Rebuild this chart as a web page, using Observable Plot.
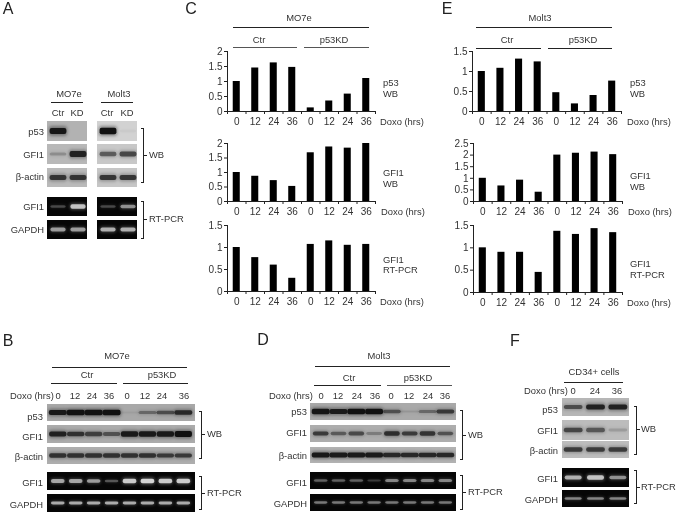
<!DOCTYPE html>
<html>
<head>
<meta charset="utf-8">
<script src="https://cdn.jsdelivr.net/npm/d3@7"></script>
<script src="https://cdn.jsdelivr.net/npm/@observablehq/plot@0.6"></script>
<style>
html,body{margin:0;padding:0;background:#fff}
#page{position:relative;width:678px;height:515px;overflow:hidden;font-family:"Liberation Sans",Arial,sans-serif;color:#333;filter:blur(0.3px)}
#page svg{position:absolute}
.t{position:absolute;white-space:pre;font-size:9.4px;line-height:12px;transform:translateY(-50%)}
.t.r{transform:translate(-100%,-50%)}
.t.c{transform:translate(-50%,-50%)}
.t.big{font-size:16px;line-height:18px;color:#222}
.ln{position:absolute;height:1px;background:#222}
.br{position:absolute;border:1px solid #222;border-left:none;width:2px;box-sizing:content-box}
.tk{position:absolute;height:1px;width:3px;background:#222}
</style>
</head>
<body>
<div id="page"></div>
<script>
// ---------- chart values ----------
const doxoHours = ["0","12","24","36","0","12","24","36"];
const mo7eP53 = [1.0,1.45,1.62,1.47,0.12,0.35,0.58,1.1];
const mo7eGfi1Wb = [1.0,0.87,0.72,0.52,1.68,1.88,1.84,2.0];
const mo7eGfi1Pcr = [1.0,0.77,0.6,0.3,1.07,1.15,1.05,1.07];
const molt3P53 = [1.0,1.08,1.31,1.24,0.47,0.19,0.4,0.76];
const molt3Gfi1Wb = [1.0,0.67,0.92,0.4,2.0,2.08,2.13,2.02];
const molt3Gfi1Pcr = [1.0,0.9,0.9,0.45,1.37,1.3,1.43,1.34];
const ticks2 = [0,0.5,1,1.5,2];
const ticks15 = [0,0.5,1,1.5];
const ticks25 = [0,0.5,1,1.5,2,2.5];

// band strengths (0..1) per lane, read from the blots
const aMo7e = {p53:[0.95,0],gfi:[0.2,0.85],act:[0.72,0.72],pcr:[0.25,0.8],gap:[0.6,0.6]};
const aMolt = {p53:[1,0.03],gfi:[0.5,0.62],act:[0.72,0.72],pcr:[0.25,0.55],gap:[0.7,0.7]};
const bP53 = [0.92,1,1,1,0.05,0.35,0.52,0.78];
const bGfi = [0.85,0.72,0.62,0.5,0.92,0.92,0.92,1];
const bAct = [0.72,0.72,0.72,0.72,0.72,0.72,0.66,0.66];
const bPcr = [0.65,0.65,0.6,0.3,0.85,0.9,0.85,0.85];
const bGap = [0.68,0.68,0.68,0.68,0.68,0.68,0.68,0.68];
const dP53 = [0.95,0.9,1,1,0.5,0.1,0.35,0.65];
const dGfi = [0.65,0.45,0.55,0.25,0.75,0.65,0.7,0.5];
const dAct = [0.92,0.9,0.9,0.9,0.8,0.8,0.8,0.8];
const dPcr = [0.35,0.35,0.35,0.2,0.5,0.5,0.5,0.5];
const dGap = [0.45,0.45,0.45,0.45,0.45,0.45,0.45,0.45];
const fP53 = [0.55,0.85,0.85];
const fGfi = [0.6,0.5,0.15];
const fAct = [0.68,0.68,0.68];
const fPcr = [0.7,0.8,0.55];
const fGap = [0.5,0.5,0.5];

// ---------- helpers ----------
const page = document.getElementById("page");
function add(cls, x, y, text){
  const d = document.createElement("div");
  d.className = cls; d.style.left = x+"px"; d.style.top = y+"px";
  if (text != null) d.textContent = text;
  page.appendChild(d); return d;
}
const left = (s,x,y)=>add("t",x,y,s);
const right = (s,x,y)=>add("t r",x,y,s);
const mid = (s,x,y)=>add("t c",x,y,s);
const big = (s,x,y)=>add("t c big",x,y,s);
const line = (x1,x2,y,col)=>{const d=add("ln",x1,y);d.style.width=(x2-x1)+"px";if(col)d.style.background=col;};
function bracket(s,x,y1,y2,tx,ty){
  const d=add("br",x,y1);d.style.height=(y2-y1)+"px";
  add("tk",x+3,ty);
  left(s,tx,ty);
}
function place(svg,x,y){svg.style.left=x+"px";svg.style.top=y+"px";page.appendChild(svg);}

function barChart(values,yMax,yTicks,axisX,axisTop,axisBottom,axisW){
  const mL=30,mR=6,mT=6,mB=20;
  const rows=values.map((v,i)=>({v,i}));
  const svg=Plot.plot({
    width:axisW+mL+mR,height:axisBottom-axisTop+mT+mB,
    marginLeft:mL,marginRight:mR,marginTop:mT,marginBottom:mB,
    style:{background:"transparent",fontFamily:"'Liberation Sans',Arial,sans-serif",fontSize:"10px",color:"#333"},
    x:{domain:[0,8],axis:null},
    y:{domain:[0,yMax],axis:null},
    marks:[
      Plot.rectY(rows,{x1:d=>d.i+0.31,x2:d=>d.i+0.69,y1:0,y2:"v",fill:"#000"}),
      Plot.ruleX([0],{stroke:"#222"}),
      Plot.ruleY([0],{stroke:"#222"}),
      Plot.axisY({ticks:yTicks,tickFormat:d=>String(d),tickSize:3,tickPadding:2,label:null,stroke:"#222",fill:"#333"}),
      Plot.axisX({ticks:d3.range(9),tickFormat:()=>"",tickSize:3,label:null,stroke:"#222"}),
      Plot.axisX({ticks:d3.range(8).map(i=>i+0.5),tickFormat:d=>doxoHours[Math.floor(d)],tickSize:0,tickPadding:6,label:null,fill:"#333"})
    ]
  });
  place(svg,axisX-mL,axisTop-mT);
}

function blot(values,x,y,w,h,opt){
  const {bg="#b4b4b4",ink="#111",lo=-0.6,hi=null,halo=0.4,scale=1,wide=0.42}=opt||{};
  const rows=values.map((v,i)=>({v,i}));
  const half=d=>(0.11+0.21*d.v)*scale;
  const svg=Plot.plot({
    width:w,height:h,margin:0,
    style:{background:bg},
    x:{domain:[lo,hi==null?values.length-0.4:hi],axis:null},
    y:{domain:[-1,1],axis:null},
    marks:[
      Plot.rect(rows,{x1:d=>d.i-wide-0.04,x2:d=>d.i+wide+0.04,y1:d=>-half(d)*1.6,y2:d=>half(d)*1.6,fill:ink,fillOpacity:d=>d.v*halo,rx:3,imageFilter:"blur(1.4px)"}),
      Plot.rect(rows,{x1:d=>d.i-wide,x2:d=>d.i+wide,y1:d=>-half(d),y2:d=>half(d),fill:ink,fillOpacity:d=>d.v,rx:2,imageFilter:"blur(0.7px)"})
    ]
  });
  place(svg,x,y);
}
const gel={bg:"#060606",ink:"#e4e4e4",scale:0.85,halo:0.35,wide:0.38};

// ---------- panel letters ----------
big("A",8,9);big("C",191,9);big("E",447,9);big("B",8,341);big("D",263,340);big("F",515,341);

// ---------- panel A ----------
mid("MO7e",69,94);line(51,83,102);mid("Molt3",119,94);line(101,133,102);
mid("Ctr",58,113);mid("KD",77,113);mid("Ctr",107,113);mid("KD",127,113);
right("p53",44,132);right("GFI1",44,155);right("β-actin",44,177);right("GFI1",44,207);right("GAPDH",44,230);
const aOpt={lo:-0.55,hi:1.45};
blot(aMo7e.p53,47,121,40,20,{...aOpt,bg:"#b2b2b2"});
blot(aMo7e.gfi,47,144,40,20,{...aOpt,bg:"#b8b8b8"});
blot(aMo7e.act,47,168,40,19,{...aOpt,bg:"#bababa"});
blot(aMo7e.pcr,47,197,40,19,{...aOpt,...gel});
blot(aMo7e.gap,47,220,40,19,{...aOpt,...gel});
blot(aMolt.p53,97,121,40,20,{...aOpt,bg:"#d2d2d2"});
blot(aMolt.gfi,97,144,40,20,{...aOpt,bg:"#c8c8c8"});
blot(aMolt.act,97,168,40,19,{...aOpt,bg:"#c6c6c6"});
blot(aMolt.pcr,97,197,40,19,{...aOpt,...gel});
blot(aMolt.gap,97,220,40,19,{...aOpt,...gel});
bracket("WB",141,128,181,149,155);
bracket("RT-PCR",141,201,237,149,219);

// ---------- panel C ----------
mid("MO7e",299,18);line(233,369,27);
mid("Ctr",259,40);line(233,297,47,"#555");mid("p53KD",334,40);line(304,369,47,"#555");
barChart(mo7eP53,2,ticks2,227,51,111,148);
barChart(mo7eGfi1Wb,2,ticks2,227,143,201,148);
barChart(mo7eGfi1Pcr,1.5,ticks15,227,225,291,148);
left("Doxo (hrs)",380,122);left("Doxo (hrs)",381,212);left("Doxo (hrs)",380,302);
left("p53",383,83);left("WB",383,94);
left("GFI1",383,173);left("WB",383,184);
left("GFI1",383,260);left("RT-PCR",383,270);

// ---------- panel E ----------
mid("Molt3",540,18);line(476,612,27);
mid("Ctr",507,40);line(476,541,48);mid("p53KD",583,40);line(548,612,48);
barChart(molt3P53,1.5,ticks15,472,51,111,149);
barChart(molt3Gfi1Wb,2.5,ticks25,473,143,201,149);
barChart(molt3Gfi1Pcr,1.5,ticks15,473,225,292,149);
left("Doxo (hrs)",627,122);left("Doxo (hrs)",628,212);left("Doxo (hrs)",627,303);
left("p53",630,83);left("WB",630,94);
left("GFI1",630,176);left("WB",630,187);
left("GFI1",630,264);left("RT-PCR",630,275);

// ---------- panel B ----------
mid("MO7e",117,356);line(52,187,367);
mid("Ctr",87,375);line(51,117,383);mid("p53KD",162,375);line(123,188,383);
left("Doxo (hrs)",10,396);
[58,75,92,109,127,145,162,184].forEach((x,i)=>mid(doxoHours[i],x,396));
const bOpt={lo:-0.6,hi:7.65};
blot(bP53,47,404,148,17,{...bOpt,bg:"#a8a8a8",wide:0.5});
blot(bGfi,47,425,148,18,{...bOpt,bg:"#ababab",wide:0.48});
blot(bAct,47,447,148,17,{...bOpt,bg:"#adadad",wide:0.48});
blot(bPcr,47,472,148,18,{...bOpt,...gel});
blot(bGap,47,494,148,18,{...bOpt,...gel,scale:0.65});
right("p53",43,417);right("GFI1",43,437);right("β-actin",43,457);right("GFI1",43,483);right("GAPDH",43,505);
bracket("WB",199,411,457,207,434);
bracket("RT-PCR",199,476,508,207,493);

// ---------- panel D ----------
mid("Molt3",379,356);line(315,450,366);
mid("Ctr",349,378);line(314,381,385);mid("p53KD",418,378);line(387,452,385,"#555");
left("Doxo (hrs)",269,396);
[321,338,357,375,391,409,428,445].forEach((x,i)=>mid(doxoHours[i],x,396));
const dOpt={lo:-0.6,hi:7.6};
blot(dP53,310,403,146,17,{...dOpt,bg:"#a9a9a9",wide:0.5});
blot(dGfi,310,425,146,17,{...dOpt,bg:"#adadad",wide:0.44});
blot(dAct,310,447,146,16,{...dOpt,bg:"#b2b2b2",wide:0.5});
blot(dPcr,310,472,146,17,{...dOpt,...gel});
blot(dGap,310,494,146,17,{...dOpt,...gel,scale:0.65});
right("p53",307,412);right("GFI1",307,433);right("β-actin",307,456);right("GFI1",307,483);right("GAPDH",307,504);
bracket("WB",460,410,458,468,435);
bracket("RT-PCR",460,475,508,468,492);

// ---------- panel F ----------
mid("CD34+ cells",594,372);line(564,623,382);
left("Doxo (hrs)",524,391);
[573,595,617].forEach((x,i)=>mid(["0","24","36"][i],x,391));
const fOpt={lo:-0.5,hi:2.5};
blot(fP53,562,398,67,18,{...fOpt,bg:"#b6b6b6"});
blot(fGfi,562,420,67,20,{...fOpt,bg:"#bcbcbc"});
blot(fAct,562,441,67,17,{...fOpt,bg:"#bdbdbd"});
blot(fPcr,562,468,67,19,{...fOpt,...gel});
blot(fGap,562,490,67,17,{...fOpt,...gel,scale:0.65});
right("p53",558,410);right("GFI1",558,431);right("β-actin",558,451);right("GFI1",558,479);right("GAPDH",558,500);
bracket("WB",634,406,453,641,429);
bracket("RT-PCR",634,470,502,641,487);
</script>
</body>
</html>
